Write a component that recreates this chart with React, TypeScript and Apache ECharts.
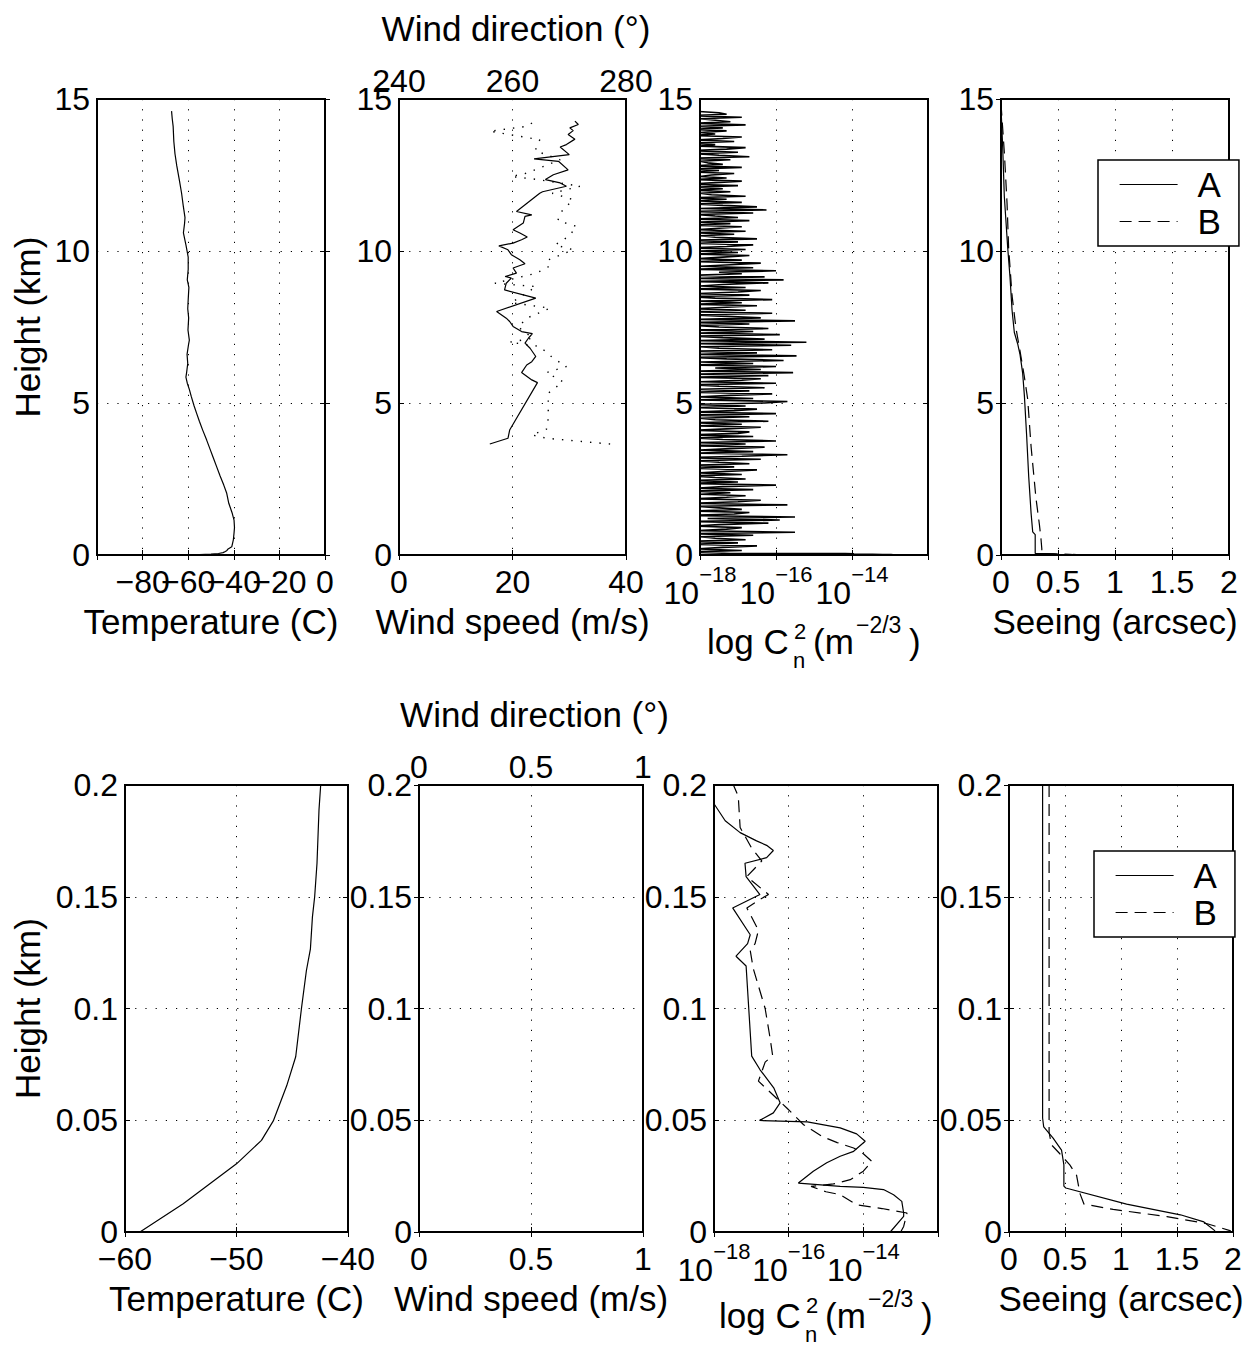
import React, { useEffect, useRef } from "react";
import * as echarts from "echarts";

const FONT = "'Liberation Sans', Arial, Helvetica, sans-serif";
const TICK_FONT = 32;
const NAME_FONT = 35;

// ---------------- DATA ----------------
// Temperature profile (°C, km), full flight
const temperatureTop: number[][] = [
  [-58.7, 0], [-55.0, 0.012], [-50.0, 0.03], [-46.7, 0.05], [-44.7, 0.078], [-43.7, 0.117], [-43.0, 0.15],
  [-42.5, 0.2], [-40.9, 0.27], [-40.2, 0.5], [-39.9, 0.72], [-39.7, 0.9], [-39.9, 1.15], [-40.8, 1.4],
  [-42.2, 1.7], [-43.1, 2.03], [-44.4, 2.3], [-46.0, 2.6], [-47.5, 2.9], [-49.0, 3.2], [-50.5, 3.5],
  [-51.9, 3.78], [-53.6, 4.1], [-55.1, 4.4], [-56.3, 4.66], [-57.4, 4.9], [-58.6, 5.2], [-59.5, 5.45],
  [-60.4, 5.65], [-61.0, 5.85], [-60.7, 6.0], [-60.2, 6.3], [-60.5, 6.6], [-59.9, 6.9], [-59.5, 7.07],
  [-60.1, 7.4], [-59.8, 7.8], [-60.2, 8.1], [-60.0, 8.4], [-59.7, 8.8], [-60.4, 9.05], [-60.0, 9.4],
  [-60.0, 9.8], [-61.0, 10.2], [-62.1, 10.6], [-61.6, 10.9], [-61.4, 11.1], [-62.2, 11.5], [-62.9, 11.9],
  [-63.8, 12.3], [-65.0, 12.8], [-65.8, 13.2], [-66.3, 13.6], [-66.6, 14.1], [-67.0, 14.35], [-67.3, 14.6],
];

// Temperature, lowest 200 m
const temperatureBottom: number[][] = [
  [-58.66, 0], [-54.78, 0.0126], [-50.0, 0.0305], [-47.76, 0.041], [-46.7, 0.0497], [-45.5, 0.0654],
  [-44.69, 0.0784], [-44.18, 0.0998], [-43.73, 0.117], [-43.37, 0.1267], [-43.19, 0.141], [-42.99, 0.15],
  [-42.78, 0.165], [-42.6, 0.189], [-42.45, 0.2],
];

// Wind speed (m/s, km)
const windSpeed: number[][] = [
  [16, 3.65], [19.2, 3.84], [19.5, 4.11], [24.4, 5.67], [23.4, 5.76], [21.6, 6.0], [22.5, 6.25], [23.4, 6.36],
  [24.1, 6.53], [23.1, 6.8], [22.2, 6.97], [22.8, 7.13], [23.5, 7.28], [21.6, 7.35], [20.1, 7.52], [19.5, 7.68],
  [18.9, 7.79], [17.2, 8.01], [24.1, 8.45], [18.6, 8.72], [18.9, 8.94], [19.8, 9.11], [18.7, 9.16], [20.7, 9.27],
  [20.1, 9.44], [22.2, 9.58], [21.3, 9.71], [19.8, 9.88], [19.2, 10.04], [17.6, 10.17], [20.1, 10.26],
  [21.6, 10.37], [22.6, 10.46], [21.3, 10.59], [20.1, 10.7], [21.9, 10.92], [22.2, 11.14], [23.4, 11.19],
  [20.7, 11.3], [24.8, 11.9], [25.3, 11.95], [29.5, 12.13], [28.4, 12.24], [25.8, 12.35], [27.2, 12.51],
  [29.8, 12.67], [28.1, 12.95], [23.8, 13.03], [30.0, 13.17], [28.4, 13.42], [29.5, 13.5], [31.0, 13.68],
  [29.8, 13.83], [30.7, 13.96], [30.1, 14.05], [31.6, 14.16], [31.0, 14.27],
];

// Wind direction (deg, km)
const windDirection: number[][] = [
  [277.2, 3.65], [266.0, 3.84], [263.4, 3.95], [266.0, 4.14], [266.3, 4.5], [266.3, 5.32], [268.9, 5.7],
  [266.0, 6.0], [269.5, 6.2], [267.2, 6.47], [264.8, 6.86], [259.5, 7.0], [263.6, 7.13], [261.0, 7.5],
  [262.5, 7.79], [266.6, 8.12], [259.8, 8.3], [264.2, 8.83], [256.9, 8.94], [264.2, 9.27], [266.5, 9.5],
  [266.3, 9.71], [270.7, 10.04], [267.5, 10.2], [269.9, 10.48], [271.3, 10.81], [268.0, 11.0], [268.4, 11.25],
  [270.7, 11.69], [267.0, 11.9], [271.9, 12.13], [264.5, 12.35], [259.8, 12.45], [262.5, 12.56], [268.4, 13.0],
  [264.0, 13.3], [264.8, 13.66], [256.0, 13.94], [262.5, 14.1], [264.2, 14.3],
];

// log10 Cn2 above ground, sampled every 50 m from 0.05 km
const CN2_STEP_KM = 0.05;
const cn2Band0to5: number[] = [
  -17.2, -18.3, -16.9, -18.1, -17.4, -16.5, -18.2, -17.0, -18.4, -16.8, -17.6, -18.0, -16.6, -18.3, -15.5, -18.1, -17.3, -16.9, -18.2, -17.5,
  -16.2, -18.3, -15.9, -17.8, -15.5, -18.4, -17.1, -16.7, -18.2, -16.9, -17.5, -18.1, -15.7, -18.3, -17.0, -16.4, -18.2, -17.3, -16.8, -18.0,
  -17.2, -18.3, -16.6, -18.1, -17.4, -16.0, -18.4, -17.0, -18.2, -16.8, -17.6, -18.3, -16.9, -18.0, -17.3, -16.5, -18.2, -17.1, -18.4, -16.7,
  -17.5, -18.1, -16.4, -18.3, -16.9, -15.7, -18.2, -16.6, -18.0, -17.2, -16.3, -18.4, -16.8, -18.1, -16.0, -17.4, -18.2, -16.6, -18.3, -17.0,
  -16.7, -18.2, -17.3, -16.4, -18.1, -16.9, -18.3, -16.2, -17.6, -18.0, -16.7, -18.4, -16.0, -18.2, -17.1, -16.5, -18.1, -16.8, -18.3, -16.3,
];
const cn2Band5to10: number[] = [
  -15.7, -18.2, -16.6, -18.0, -17.2, -16.1, -18.3, -16.7, -18.1, -16.3, -17.5, -18.2, -16.0, -18.0, -16.9, -16.4, -18.3, -16.2, -18.1, -15.55,
  -18.2, -16.4, -17.6, -16.0, -18.3, -16.6, -18.0, -15.8, -17.3, -18.2, -15.46, -18.1, -16.5, -18.3, -16.1, -17.5, -18.0, -15.6, -18.2, -15.2,
  -18.1, -16.3, -17.4, -18.2, -15.9, -18.0, -16.6, -18.3, -16.2, -17.5, -18.1, -16.7, -18.2, -15.5, -18.0, -16.4, -17.3, -18.2, -16.1, -18.3,
  -16.8, -18.1, -17.3, -16.5, -18.2, -16.9, -18.0, -16.1, -17.6, -18.3, -16.7, -18.1, -17.0, -16.4, -18.2, -16.8, -18.0, -17.4, -16.2, -18.3,
  -15.8, -18.1, -16.3, -18.2, -16.9, -17.5, -16.0, -18.3, -16.6, -18.0, -17.2, -16.4, -18.2, -16.9, -18.1, -17.4, -16.7, -18.3, -17.0, -18.0,
];
const cn2Band10to15: number[] = [
  -16.8, -18.2, -17.3, -16.6, -18.1, -17.0, -18.3, -16.5, -17.6, -18.0, -17.1, -18.2, -16.8, -18.1, -17.5, -16.9, -18.3, -17.2, -18.0, -16.7,
  -18.2, -17.0, -17.6, -18.1, -16.6, -18.3, -16.25, -18.0, -16.5, -17.4, -18.2, -16.9, -18.1, -17.3, -18.3, -16.8, -17.7, -18.0, -17.2, -18.2,
  -17.4, -18.1, -17.0, -18.3, -17.6, -16.9, -18.2, -17.3, -18.0, -17.7, -17.1, -18.3, -17.5, -18.1, -16.9, -18.2, -17.4, -17.8, -18.0, -17.2,
  -18.3, -16.7, -17.5, -18.1, -17.0, -18.2, -17.3, -16.8, -18.0, -17.6, -18.3, -17.1, -18.1, -17.4, -16.9, -18.2, -17.6, -18.0, -17.3, -18.3,
  -17.4, -18.1, -16.8, -18.2, -17.2, -17.6, -18.0, -16.9, -18.3, -17.3, -17.5, -18.2,
];

// log10 Cn2, lowest 200 m (A solid, B dashed)
const cn2BottomA: number[][] = [
  [-13.28, 0], [-12.92, 0.007], [-12.92, 0.0085], [-12.97, 0.0137], [-13.19, 0.0167], [-13.46, 0.019],
  [-14.0, 0.02], [-14.62, 0.0204], [-15.74, 0.0219], [-15.34, 0.0272], [-14.98, 0.031], [-14.62, 0.0339],
  [-14.26, 0.0361], [-13.95, 0.0406], [-14.18, 0.0439], [-14.62, 0.0466], [-15.5, 0.0493], [-16.78, 0.0499],
  [-16.41, 0.0533], [-16.23, 0.0578], [-16.4, 0.0645], [-16.77, 0.0727], [-16.99, 0.0787], [-17.14, 0.119],
  [-17.41, 0.1234], [-17.1, 0.129], [-17.03, 0.133], [-17.5, 0.145], [-16.77, 0.151], [-17.14, 0.159],
  [-17.17, 0.165], [-16.59, 0.1675], [-16.41, 0.1707], [-16.59, 0.173], [-16.86, 0.175], [-17.3, 0.1787],
  [-17.7, 0.184], [-18.0, 0.1916], [-18.2, 0.2],
];
const cn2BottomB: number[][] = [
  [-13.0, 0], [-12.92, 0.0025], [-12.83, 0.0085], [-13.5, 0.0105], [-14.18, 0.0122], [-14.62, 0.0167],
  [-15.0, 0.018], [-15.4, 0.0204], [-14.8, 0.0215], [-14.35, 0.0234], [-14.0, 0.0272], [-13.77, 0.0316],
  [-14.0, 0.035], [-14.26, 0.0376], [-14.7, 0.04], [-15.11, 0.0428], [-15.6, 0.048], [-16.05, 0.0555],
  [-16.81, 0.0675], [-16.63, 0.076], [-16.43, 0.079], [-16.5, 0.087], [-16.63, 0.1], [-16.95, 0.118],
  [-17.03, 0.126], [-16.9, 0.129], [-16.81, 0.135], [-17.12, 0.145], [-16.75, 0.149], [-16.54, 0.151],
  [-17.12, 0.159], [-16.72, 0.166], [-17.0, 0.172], [-17.3, 0.181], [-17.35, 0.195], [-17.48, 0.2],
];

// Integrated seeing (arcsec, km)
const seeingTopA: number[][] = [
  [0, 14.72], [0.015, 13.4], [0.029, 11.8], [0.059, 10.1], [0.079, 9.14], [0.097, 8.05], [0.117, 7.32],
  [0.146, 6.95], [0.167, 6.59], [0.19, 5.98], [0.205, 5.25], [0.225, 3.92], [0.243, 2.58], [0.264, 1.37],
  [0.278, 0.76], [0.3, 0.67],
];
const seeingTopB: number[][] = [
  [0, 14.85], [0.03, 13.2], [0.053, 11.57], [0.067, 10.1], [0.097, 8.53], [0.132, 7.44], [0.167, 6.71],
  [0.205, 5.86], [0.234, 5.13], [0.264, 3.56], [0.307, 1.86], [0.337, 1.0], [0.351, 0.52],
];
const seeingBottomA: number[][] = [
  [0.3, 0.2], [0.3, 0.051], [0.31, 0.047], [0.394, 0.042], [0.469, 0.0366], [0.49, 0.03], [0.49, 0.0205],
  [0.507, 0.0197], [1.05, 0.0125], [1.53, 0.0077], [1.74, 0.0045], [1.84, 0.0005],
];
const seeingBottomB: number[][] = [
  [0.358, 0.2], [0.358, 0.0446], [0.379, 0.039], [0.454, 0.035], [0.543, 0.03], [0.603, 0.0254],
  [0.633, 0.0173], [0.669, 0.0125], [0.93, 0.0101], [1.41, 0.0069], [1.77, 0.0037], [1.98, 0.0005],
];

// Axis ranges [min, max, interval]
const xRangesTop = [[-100, 0, 20], [0, 40, 20], [-18, -12, 2], [0, 2, 0.5]];
const xRangesBottom = [[-60, -40, 10], [0, 1, 0.5], [-18, -12, 2], [0, 2, 0.5]];
const windDirRangeTop = [240, 280, 20];
const windDirRangeBottom = [0, 1, 0.5];
const heightRangeTop = [0, 15, 5];
const heightRangeBottom = [0, 0.2, 0.05];

const xNamesTop = ["Temperature (C)", "Wind speed (m/s)", "", "Seeing (arcsec)"];
const xNamesBottom = ["Temperature (C)", "Wind speed (m/s)", "", "Seeing (arcsec)"];
const legendNames = ["A", "B"];

// ---------------- LAYOUT ----------------
const panelsTop = [
  { left: 97, width: 228 },
  { left: 399, width: 227 },
  { left: 700, width: 228 },
  { left: 1001, width: 228 },
];
const panelsBottom = [
  { left: 125, width: 223 },
  { left: 419, width: 224 },
  { left: 714, width: 224 },
  { left: 1009, width: 224 },
];
const ROW_TOP = { top: 99, height: 456 };
const ROW_BOTTOM = { top: 785, height: 447 };

const fmtNum = (v: number) => String(+v.toFixed(4)).replace("-", "\u2212");

function buildOption() {
  const grids: any[] = [];
  const xAxes: any[] = [];
  const yAxes: any[] = [];
  const graphic: any[] = [];

  const dotted = { show: true, lineStyle: { color: "#000", width: 1, type: [1.2, 9] } };
  const tick = { show: true, inside: true, length: 5, lineStyle: { color: "#000", width: 1 } };
  const labelBase = { color: "#000", fontSize: TICK_FONT, fontFamily: FONT };

  const text = (t: string, x: number, y: number, size: number, align = "center", extra: any = {}) => ({
    type: "text",
    x,
    y,
    silent: true,
    ...extra,
    style: {
      text: t,
      fontSize: size,
      fontFamily: FONT,
      fill: "#000",
      align,
      textAlign: align,
      verticalAlign: "middle",
      textVerticalAlign: "middle",
    },
  });

  const rows = [
    { panels: panelsTop, row: ROW_TOP, xr: xRangesTop, yr: heightRangeTop, dir: windDirRangeTop, names: xNamesTop },
    { panels: panelsBottom, row: ROW_BOTTOM, xr: xRangesBottom, yr: heightRangeBottom, dir: windDirRangeBottom, names: xNamesBottom },
  ];

  rows.forEach((r, ri) => {
    r.panels.forEach((p, pi) => {
      const gi = ri * 4 + pi;
      grids.push({
        left: p.left,
        top: r.row.top,
        width: p.width,
        height: r.row.height,
        show: true,
        backgroundColor: "rgba(0,0,0,0)",
        borderColor: "#000",
        borderWidth: 2,
        containLabel: false,
      });
      const [xmin, xmax, xint] = r.xr[pi];
      const isLog = pi === 2;
      const xLabel: any = isLog
        ? {
            ...labelBase,
            margin: 8,
            formatter: (v: number) => (v === xmax ? "" : `{b|10}{s|\u2212${Math.abs(v)}}`),
            rich: {
              b: { fontSize: 32, fontFamily: FONT, color: "#000", lineHeight: 46, verticalAlign: "bottom" },
              s: { fontSize: 22, fontFamily: FONT, color: "#000", verticalAlign: "top" },
            },
          }
        : {
            ...labelBase,
            margin: 11,
            formatter: (v: number) => (ri === 0 && pi === 0 && v === xmin ? "" : fmtNum(v)),
          };
      xAxes.push({
        type: "value",
        gridIndex: gi,
        position: "bottom",
        min: xmin,
        max: xmax,
        interval: xint,
        axisLine: { show: false },
        axisTick: tick,
        splitLine: dotted,
        axisLabel: xLabel,
      });
      const hasDir = pi === 1;
      const topR = hasDir ? r.dir : r.xr[pi];
      xAxes.push({
        type: "value",
        gridIndex: gi,
        position: "top",
        min: topR[0],
        max: topR[1],
        interval: topR[2],
        axisLine: { show: false },
        axisTick: tick,
        splitLine: { show: false },
        axisLabel: hasDir ? { ...labelBase, margin: 2, formatter: fmtNum } : { show: false },
      });
      const [ymin, ymax, yint] = r.yr;
      yAxes.push({
        type: "value",
        gridIndex: gi,
        position: "left",
        min: ymin,
        max: ymax,
        interval: yint,
        axisLine: { show: false },
        axisTick: tick,
        splitLine: dotted,
        axisLabel: { ...labelBase, margin: 7, formatter: fmtNum },
      });
      yAxes.push({
        type: "value",
        gridIndex: gi,
        position: "right",
        min: ymin,
        max: ymax,
        interval: yint,
        axisLine: { show: false },
        axisTick: tick,
        splitLine: { show: false },
        axisLabel: { show: false },
      });

      const cx = p.left + p.width / 2;
      const bottom = r.row.top + r.row.height;
      if (r.names[pi]) graphic.push(text(r.names[pi], cx, bottom + 66, NAME_FONT));
      if (isLog) {
        const dy = ri === 0 ? 0 : -3;
        graphic.push(text("log C", cx - 107, bottom + 86 + dy, NAME_FONT, "left"));
        graphic.push(text("2", cx - 20, bottom + 76 + dy, 22, "left"));
        graphic.push(text("n", cx - 21, bottom + 105 + dy, 22, "left"));
        graphic.push(text("(m", cx - 1, bottom + 86 + dy, NAME_FONT, "left"));
        graphic.push(text("\u22122/3", cx + 42, bottom + 70 + dy, 23, "left"));
        graphic.push(text(")", cx + 95, bottom + 86 + dy, NAME_FONT, "left"));
      }
      if (hasDir) graphic.push(text("Wind direction (\u00b0)", cx + 3.5, r.row.top - 71, NAME_FONT));
      if (pi === 0) {
        graphic.push(
          text("Height (km)", 27, r.row.top + r.row.height / 2, NAME_FONT, "center", { rotation: Math.PI / 2 })
        );
      }
    });
  });

  const cn2TopSamples = [...cn2Band0to5, ...cn2Band5to10, ...cn2Band10to15].map((e, i) => [
    e,
    +((i + 1) * CN2_STEP_KM).toFixed(3),
  ]);
  const cn2Top = [...cn2BottomA.filter((p) => p[1] < 0.05), ...cn2TopSamples];

  const base = { type: "line", symbol: "none", showSymbol: false, silent: true, clip: true };
  const solid = { color: "#000", width: 1.2, type: "solid" };
  const dashed = { color: "#000", width: 1.2, type: [12, 7] };
  const dots = { color: "#000", width: 1.4, type: [1.4, 8] };
  const black = { color: "#000" };

  const series: any[] = [
    { ...base, name: "Temperature", xAxisIndex: 0, yAxisIndex: 0, data: temperatureTop, lineStyle: solid, itemStyle: black },
    { ...base, name: "Wind speed", xAxisIndex: 2, yAxisIndex: 2, data: windSpeed, lineStyle: solid, itemStyle: black },
    { ...base, name: "Wind direction", xAxisIndex: 3, yAxisIndex: 2, data: windDirection, lineStyle: dots, itemStyle: black },
    { ...base, name: "Cn2", xAxisIndex: 4, yAxisIndex: 4, data: cn2Top, lineStyle: { ...solid, width: 1.6 }, itemStyle: black },
    { ...base, name: "A", xAxisIndex: 6, yAxisIndex: 6, data: [...seeingTopA, ...seeingBottomA.slice(1)], lineStyle: solid, itemStyle: black },
    { ...base, name: "B", xAxisIndex: 6, yAxisIndex: 6, data: [...seeingTopB, ...seeingBottomB], lineStyle: dashed, itemStyle: black },
    { ...base, name: "Temperature low", xAxisIndex: 8, yAxisIndex: 8, data: temperatureBottom, lineStyle: solid, itemStyle: black },
    { ...base, name: "Cn2 A", xAxisIndex: 12, yAxisIndex: 12, data: cn2BottomA, lineStyle: solid, itemStyle: black },
    { ...base, name: "Cn2 B", xAxisIndex: 12, yAxisIndex: 12, data: cn2BottomB, lineStyle: dashed, itemStyle: black },
    { ...base, name: "A", xAxisIndex: 14, yAxisIndex: 14, data: seeingBottomA, lineStyle: solid, itemStyle: black },
    { ...base, name: "B", xAxisIndex: 14, yAxisIndex: 14, data: seeingBottomB, lineStyle: dashed, itemStyle: black },
  ];

  const legendBase = {
    orient: "vertical",
    data: legendNames,
    backgroundColor: "#fff",
    borderColor: "#000",
    borderWidth: 1.5,
    borderRadius: 0,
    padding: [7, 18, 7, 21],
    itemWidth: 58,
    itemHeight: 14,
    itemGap: 2,
    selectedMode: false,
    itemStyle: { opacity: 0, borderWidth: 0 },
    lineStyle: { width: 1.2 },
    textStyle: { fontSize: NAME_FONT, color: "#000", fontFamily: FONT, padding: [0, 0, 0, 15] },
    z: 20,
  };

  return {
    animation: false,
    backgroundColor: "#fff",
    textStyle: { fontFamily: FONT },
    grid: grids,
    xAxis: xAxes,
    yAxis: yAxes,
    series,
    legend: [
      { ...legendBase, left: 1098, top: 160 },
      { ...legendBase, left: 1094, top: 851 },
    ],
    graphic: { elements: graphic },
  };
}

export default function App() {
  const ref = useRef<HTMLDivElement>(null);
  useEffect(() => {
    document.body.style.margin = "0";
    if (!ref.current) return;
    const chart = echarts.init(ref.current, null, { renderer: "svg" });
    chart.setOption(buildOption() as any);
    return () => chart.dispose();
  }, []);
  return <div ref={ref} style={{ width: 1252, height: 1349, background: "#fff" }} />;
}
